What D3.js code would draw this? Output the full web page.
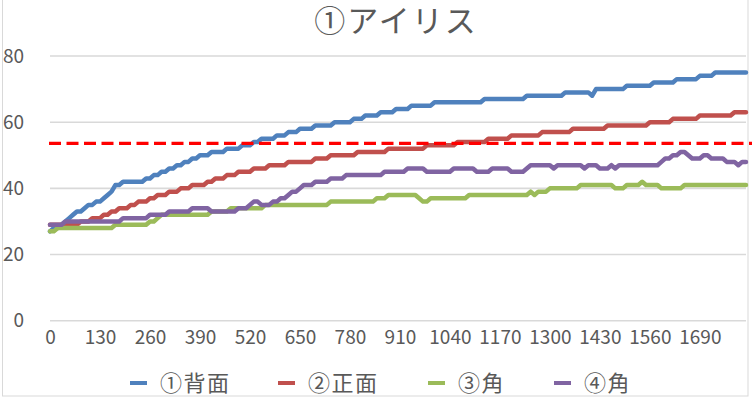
<!DOCTYPE html>
<html>
<head>
<meta charset="utf-8">
<script src="https://cdn.jsdelivr.net/npm/d3@7"></script>
<style>
  body { margin: 0; background: #fff; }
  svg { display: block; font-family: "Noto Sans CJK JP", "Noto Sans", sans-serif; }
</style>
</head>
<body>
<div id="chart"></div>
<script>
const W = 752, H = 398;

const title = "①アイリス";
const seriesNames = ["①背面", "②正面", "③角", "④角"];
const seriesColors = ["#4f81bd", "#c0504d", "#9bbb59", "#8064a2"];

// x categories (seconds), every 10
const categories = d3.range(0, 1820, 10);
const xTickLabels = [0, 130, 260, 390, 520, 650, 780, 910, 1040, 1170, 1300, 1430, 1560, 1690];
const yTickLabels = [0, 20, 40, 60, 80];
const thresholdValue = 53.6;

const back = [
  27,28,28,29,30,31,32,33,33,34,
  35,35,36,36,37,38,39,41,41,42,
  42,42,42,42,42,43,43,44,44,45,
  45,46,46,47,47,48,48,49,49,50,
  50,50,51,51,51,51,52,52,52,52,
  53,53,53,54,54,55,55,55,55,56,
  56,56,57,57,57,58,58,58,58,59,
  59,59,59,59,60,60,60,60,60,61,
  61,61,62,62,62,62,63,63,63,63,
  64,64,64,64,65,65,65,65,65,65,
  66,66,66,66,66,66,66,66,66,66,
  66,66,66,67,67,67,67,67,67,67,
  67,67,67,67,68,68,68,68,68,68,
  68,68,68,68,69,69,69,69,69,69,
  69,68,70,70,70,70,70,70,70,70,
  71,71,71,71,71,71,71,72,72,72,
  72,72,72,73,73,73,73,73,73,74,
  74,74,74,75,75,75,75,75,75,75,
  75,75
];

const front = [
  29,29,29,29,29,29,29,29,30,30,
  30,31,31,31,32,32,33,33,34,34,
  34,35,35,36,36,36,37,37,38,38,
  38,39,39,39,40,40,40,41,41,41,
  41,42,42,43,43,43,44,44,44,45,
  45,45,45,46,46,46,46,47,47,47,
  47,47,48,48,48,48,48,48,48,49,
  49,49,49,50,50,50,50,50,50,50,
  51,51,51,51,51,51,51,51,52,52,
  52,52,52,52,52,52,52,52,53,53,
  53,53,53,53,53,53,54,54,54,54,
  54,54,54,54,55,55,55,55,55,55,
  56,56,56,56,56,56,56,56,57,57,
  57,57,57,57,57,57,58,58,58,58,
  58,58,58,58,58,59,59,59,59,59,
  59,59,59,59,59,59,60,60,60,60,
  60,60,61,61,61,61,61,61,61,62,
  62,62,62,62,62,62,62,62,63,63,
  63,63
];

const corner3 = [
  27,27,28,28,28,28,28,28,28,28,
  28,28,28,28,28,28,28,29,29,29,
  29,29,29,29,29,29,30,30,31,32,
  32,32,32,32,32,32,32,32,32,32,
  32,32,33,33,33,33,33,34,34,34,
  34,34,34,34,34,34,35,35,35,35,
  35,35,35,35,35,35,35,35,35,35,
  35,35,35,36,36,36,36,36,36,36,
  36,36,36,36,36,37,37,37,38,38,
  38,38,38,38,38,38,37,36,36,37,
  37,37,37,37,37,37,37,37,37,38,
  38,38,38,38,38,38,38,38,38,38,
  38,38,38,38,38,39,38,39,39,39,
  40,40,40,40,40,40,40,40,41,41,
  41,41,41,41,41,41,41,40,40,40,
  41,41,41,41,42,41,41,41,41,40,
  40,40,40,40,40,41,41,41,41,41,
  41,41,41,41,41,41,41,41,41,41,
  41,41
];

const corner4 = [
  29,29,29,29,30,30,30,30,30,30,
  30,30,30,30,30,30,30,30,30,31,
  31,31,31,31,31,31,32,32,32,32,
  32,33,33,33,33,33,33,34,34,34,
  34,34,33,33,33,33,33,33,33,34,
  34,34,35,36,36,35,35,35,36,36,
  37,37,38,39,39,40,41,41,41,42,
  42,42,42,43,43,43,43,44,44,44,
  44,44,44,44,44,44,44,45,45,45,
  45,45,45,46,46,46,46,46,45,45,
  45,45,45,45,45,46,46,46,46,46,
  46,45,45,45,45,46,46,46,46,46,
  45,45,45,45,46,47,47,47,47,47,
  47,46,47,47,47,47,47,47,47,46,
  47,47,47,46,46,46,47,46,47,47,
  47,47,47,47,47,47,47,47,47,48,
  49,49,50,50,51,51,50,49,49,49,
  50,50,49,49,49,49,48,48,48,47,
  48,48
];

const seriesValues = [back, front, corner3, corner4];

const svg = d3.select("#chart")
  .append("svg")
  .attr("width", W)
  .attr("height", H);

svg.append("rect")
  .attr("width", W)
  .attr("height", H)
  .attr("fill", "#fff");

// chart frame
svg.append("rect")
  .attr("x", 2.5)
  .attr("y", -2)
  .attr("width", 745.5)
  .attr("height", 398)
  .attr("fill", "none")
  .attr("stroke", "#d9d9d9")
  .attr("stroke-width", 1);

const x = d3.scalePoint().domain(categories).range([50, 746]);
const y = d3.scaleLinear().domain([0, 80]).range([320.7, 56]);

// gridlines
svg.append("g")
  .selectAll("line")
  .data(yTickLabels)
  .enter()
  .append("line")
  .attr("x1", 50)
  .attr("x2", 746)
  .attr("y1", d => y(d))
  .attr("y2", d => y(d))
  .attr("stroke", "#d9d9d9")
  .attr("stroke-width", 1.6);

// y axis labels
const yAxis = svg.append("g")
  .attr("transform", "translate(50,0)")
  .call(d3.axisLeft(y).tickValues(yTickLabels).tickSize(0).tickPadding(26));
yAxis.select(".domain").remove();
yAxis.selectAll("text")
  .style("font-size", "19px")
  .style("font-family", "'Noto Sans CJK JP', sans-serif")
  .attr("fill", "#595959");

// x axis labels
const xAxis = svg.append("g")
  .attr("transform", `translate(0,${y(0)})`)
  .call(d3.axisBottom(x).tickValues(xTickLabels).tickSize(0).tickPadding(10));
xAxis.select(".domain").remove();
xAxis.selectAll("text")
  .style("font-size", "19px")
  .style("font-family", "'Noto Sans CJK JP', sans-serif")
  .attr("fill", "#595959");

// series
const line = d3.line()
  .x((d, i) => x(categories[i]))
  .y(d => y(d));

svg.append("g")
  .selectAll("path")
  .data(seriesValues)
  .enter()
  .append("path")
  .attr("fill", "none")
  .attr("stroke", (d, i) => seriesColors[i])
  .attr("stroke-width", 4.5)
  .attr("stroke-linejoin", "round")
  .attr("stroke-linecap", "round")
  .attr("d", line);

// threshold line
svg.append("line")
  .attr("x1", 49)
  .attr("x2", 752)
  .attr("y1", y(thresholdValue))
  .attr("y2", y(thresholdValue))
  .attr("stroke", "#ff0000")
  .attr("stroke-width", 3.2)
  .attr("stroke-dasharray", "12,5.5");

// title
svg.append("text")
  .attr("x", 396)
  .attr("y", 32)
  .attr("text-anchor", "middle")
  .attr("fill", "#595959")
  .style("font-size", "31px")
  .style("letter-spacing", "2px")
  .text(title);

// legend
const legendX = [130, 278, 428, 554];
const legend = svg.append("g")
  .selectAll("g")
  .data(seriesNames)
  .enter()
  .append("g")
  .attr("transform", (d, i) => `translate(${legendX[i]},383)`);

legend.append("line")
  .attr("x1", 0)
  .attr("x2", 17)
  .attr("stroke", (d, i) => seriesColors[i])
  .attr("stroke-width", 4);

legend.append("text")
  .attr("x", 30)
  .attr("dy", "0.36em")
  .attr("fill", "#595959")
  .style("font-size", "22px")
  .style("letter-spacing", "1.5px")
  .text(d => d);
</script>
</body>
</html>
